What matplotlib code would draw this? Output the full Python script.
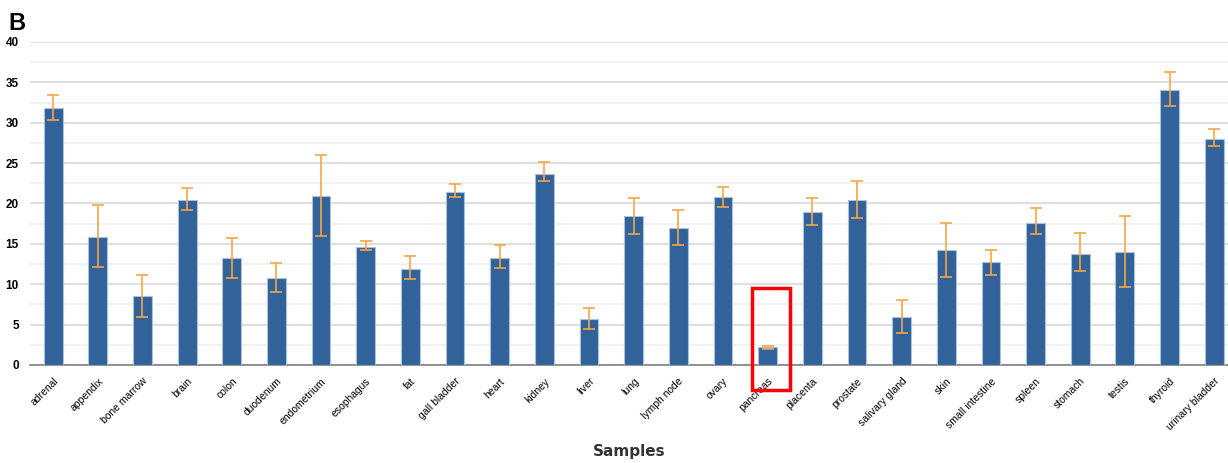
import numpy as np
import matplotlib
matplotlib.use('Agg')
import matplotlib.pyplot as plt

plt.rcParams['font.family'] = ['Liberation Sans', 'DejaVu Sans']

# Tissue expression values
samples = ['adrenal', 'appendix', 'bone marrow', 'brain', 'colon', 'duodenum',
           'endometrium', 'esophagus', 'fat', 'gall bladder', 'heart', 'kidney',
           'liver', 'lung', 'lymph node', 'ovary', 'pancreas', 'placenta',
           'prostate', 'salivary gland', 'skin', 'small intestine', 'spleen',
           'stomach', 'testis', 'thyroid', 'urinary bladder']
means = [31.8, 15.9, 8.5, 20.4, 13.2, 10.8, 20.9, 14.6, 11.9, 21.4, 13.3, 23.7,
         5.7, 18.4, 17.0, 20.8, 2.2, 18.9, 20.4, 5.9, 14.2, 12.7, 17.6, 13.7,
         14.0, 34.1, 28.0]
err_low = [30.4, 12.1, 5.9, 19.2, 10.8, 9.1, 16.0, 14.2, 10.7, 20.8, 12.0, 22.8,
           4.5, 16.2, 14.9, 19.6, 2.0, 17.3, 18.2, 4.0, 10.9, 11.2, 16.2, 11.6,
           9.7, 32.1, 27.1]
err_high = [33.4, 19.8, 11.2, 21.9, 15.7, 12.6, 26.0, 15.3, 13.5, 22.4, 14.8, 25.1,
            7.1, 20.7, 19.2, 22.0, 2.4, 20.7, 22.8, 8.1, 17.6, 14.3, 19.4, 16.3,
            18.4, 36.3, 29.2]

x = np.arange(len(samples))
means = np.array(means)
yerr = [means - np.array(err_low), np.array(err_high) - means]

fig = plt.figure(figsize=(12.28, 4.63), dpi=100)
ax = fig.add_axes([0.0244, 0.2117, 0.9756, 0.6976])

ax.bar(x, means, width=0.42, color='#31639a', edgecolor='#a9c1de', linewidth=0.8, zorder=3)
ax.errorbar(x, means, yerr=yerr, fmt='none', ecolor='#f5a647', elinewidth=1.2,
            capsize=4, capthick=1.2, zorder=4)

ax.set_xlim(-0.52, 26.31)
ax.set_ylim(0, 40)
ax.set_yticks(np.arange(0, 41, 5))
ax.set_yticks(np.arange(2.5, 40, 5), minor=True)
ax.grid(axis='y', which='major', color='#d9d9d9', linewidth=1.2, zorder=0)
ax.grid(axis='y', which='minor', color='#f0f0f0', linewidth=1.2, zorder=0)
ax.tick_params(axis='y', which='both', length=0, labelsize=8.5, pad=8)
for lab in ax.get_yticklabels():
    lab.set_fontweight('bold')

ax.set_xticks(x)
ax.set_xticklabels(samples, rotation=45, ha='right', rotation_mode='anchor', fontsize=7.5)
ax.tick_params(axis='x', length=0, pad=8)

for side in ['top', 'right', 'left']:
    ax.spines[side].set_visible(False)
ax.spines['bottom'].set_color('#7f7f7f')
ax.spines['bottom'].set_linewidth(1.2)

ax.set_xlabel('Samples', fontsize=11, fontweight='bold', color='#333333',
              family='DejaVu Sans')
ax.xaxis.set_label_coords(0.5, -0.245)

# panel letter and highlight box around pancreas
fig.text(0.007, 0.935, 'B', fontsize=17, fontweight='bold')
ax.add_patch(plt.Rectangle((15.64, -3.1), 0.85, 12.6, fill=False, edgecolor='red',
                           linewidth=2.5, clip_on=False, zorder=5))

fig.savefig('out.png', dpi=100)
